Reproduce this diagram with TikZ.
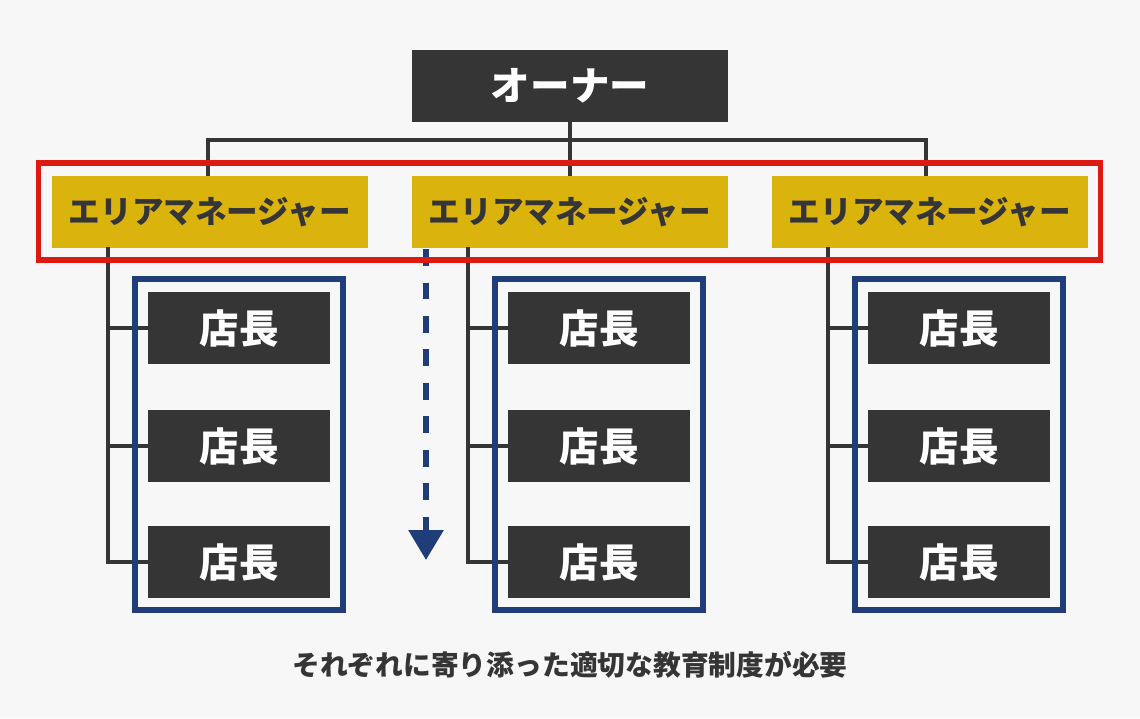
\documentclass[tikz,border=0pt]{standalone}
\usepackage{fontspec}
\setmainfont{Noto Sans CJK JP}
\usetikzlibrary{
  calc,
  arrows.meta,
}
\definecolor{bgcol}{HTML}{F7F7F7}
\definecolor{darkbox}{HTML}{353535}
\definecolor{goldbox}{HTML}{DBB30D}
\definecolor{redline}{HTML}{DD1A10}
\definecolor{navyline}{HTML}{1F3D78}

\begin{document}
\begin{tikzpicture}[
    x=0.02cm, y=-0.02cm,
    conn/.style={line width=2pt, darkbox},
    boss/.style={fill=darkbox, text=white, minimum width=6.32cm, minimum height=1.44cm, inner sep=0pt,
        font=\fontsize{22.5}{27}\selectfont\bfseries},
    mgr/.style={fill=goldbox, text=darkbox, minimum width=6.32cm, minimum height=1.43cm, inner sep=0pt,
        font=\fontsize{18}{22}\selectfont\bfseries},
    shop/.style={fill=darkbox, text=white, minimum width=3.64cm, minimum height=1.44cm, inner sep=0pt,
        font=\fontsize{22.5}{27}\selectfont\bfseries},
    lab/.style={text=darkbox, font=\fontsize{15.8}{19}\selectfont\bfseries},
  ]
  \fill[bgcol] (0,0) rectangle (1140,718);

  \node[boss] (owner) at (570,86) {オーナー};
  \coordinate (bus) at (570,140);

  \foreach \k in {0,1,2} {
      \node[mgr] (am\k) at (210+360*\k,212) {エリアマネージャー};
      \coordinate (spine\k) at (108+360*\k,247);
      \foreach \j/\y in {1/328,2/446,3/562} {
          \node[shop] (shop\k\j) at (239+360*\k,\y) {店長};
          \draw[conn] (spine\k) |- (shop\k\j.west);
        }
    }

  \draw[conn] (owner) -- (bus);
  \draw[conn] ([xshift=-0.04cm]am0.north) |- (bus) -| ([xshift=-0.08cm]am2.north);
  \draw[conn] (bus) -- (am1.north);

  % store groups
  \foreach \k in {0,1,2} {
      \draw[navyline, line width=3.1pt] (135+360*\k,279) rectangle (343+360*\k,610);
    }

  \coordinate (flowtop) at (426,249);
  \coordinate (flowend) at (426,560);
  \draw[navyline, line width=3.4pt, dash pattern=on 0.34cm off 0.33cm,
    -{Triangle[width=0.68cm, length=0.6cm]}] (flowtop) -- (flowend);

  % managers
  \draw[redline, line width=3.1pt] (38.5,163) rectangle (1100.5,260);

  \node[lab] (note) at (570,665) {それぞれに寄り添った適切な教育制度が必要};
\end{tikzpicture}
\end{document}
